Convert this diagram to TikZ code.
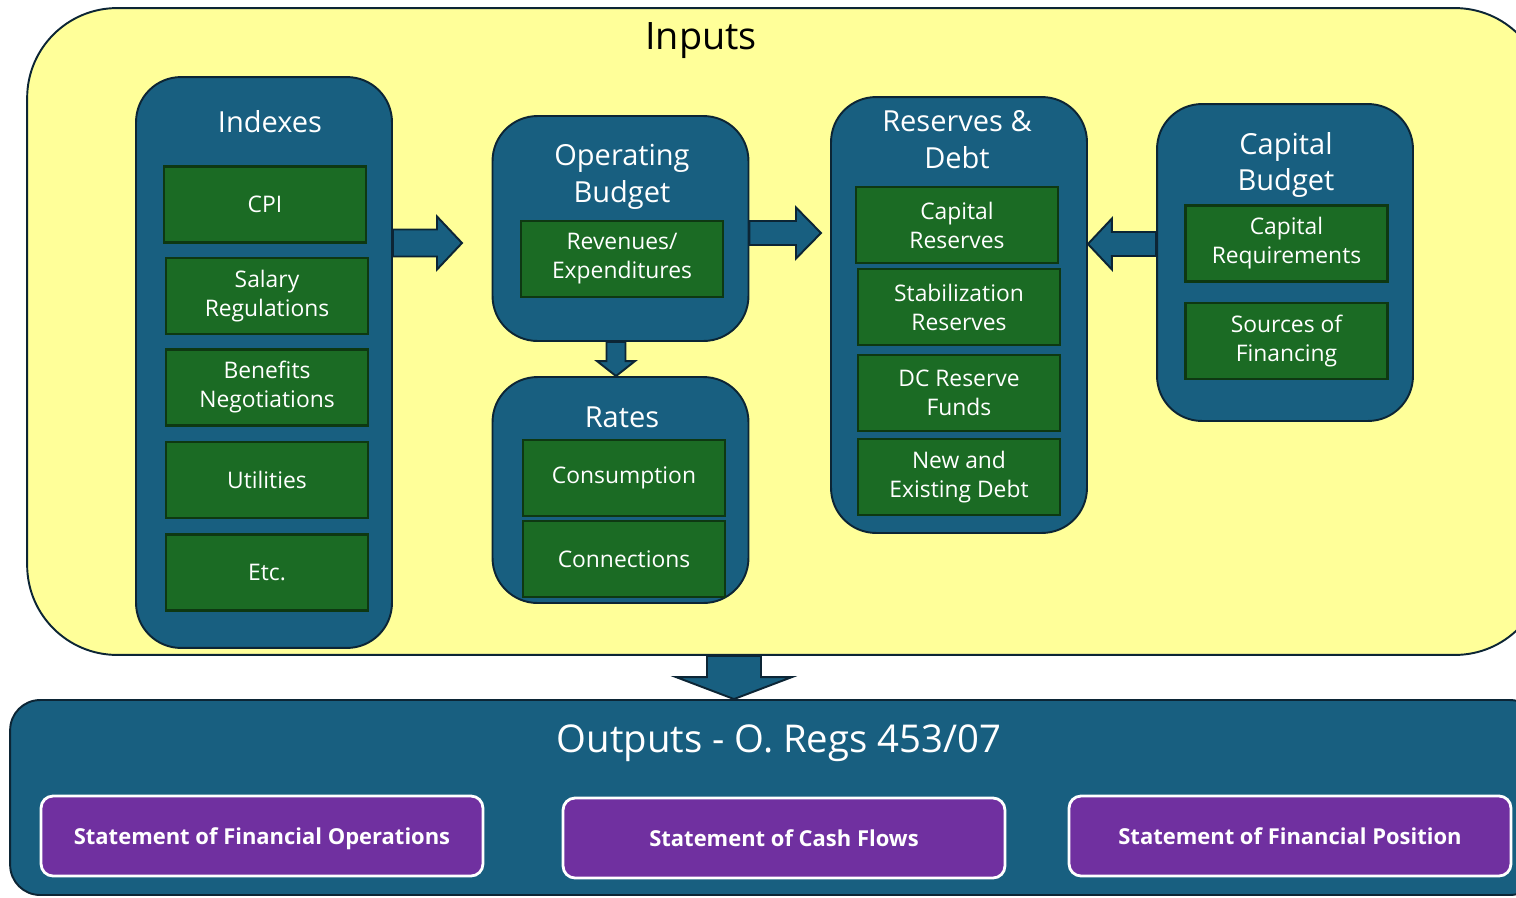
\documentclass[tikz,border=0pt]{standalone}
\usepackage{fontspec}
\setmainfont{Open Sans}
\usetikzlibrary{shapes, arrows, positioning, calc}

\definecolor{inyellow}{HTML}{FFFF99}
\definecolor{grpblue}{HTML}{185F80}
\definecolor{edgenavy}{HTML}{0C2535}
\definecolor{itemgreen}{HTML}{1B6B24}
\definecolor{itemedge}{HTML}{0E3812}
\definecolor{stmtpurple}{HTML}{7030A0}

% block arrow: start, tip, shaft half width, head half width, head length
\newcommand{\fatarrow}[5]{%
  \coordinate (fa-base) at ($(#2)!#5!(#1)$);
  \draw[fat_arrow] ($(#1)!#3!90:(#2)$) -- ($(fa-base)!#3!90:(#2)$) -- ($(fa-base)!#4!90:(#2)$) -- (#2)
    -- ($(fa-base)!#4!-90:(#2)$) -- ($(fa-base)!#3!-90:(#2)$) -- ($(#1)!#3!-90:(#2)$) -- cycle;
}

\begin{document}
\begin{tikzpicture}[
    x=0.02cm, y=-0.02cm,   % one unit per pixel, y going down
    node distance=0.26cm,
    in_box/.style={rectangle, rounded corners=1.8cm, draw=edgenavy, line width=1.1pt, fill=inyellow},
    out_box/.style={rectangle, rounded corners=0.6cm, draw=edgenavy, line width=1.1pt, fill=grpblue},
    grp_box/.style={rectangle, rounded corners=0.9cm, draw=edgenavy, line width=1.1pt, fill=grpblue, minimum width=5.12cm},
    grp_title/.style={align=center, text=white, font=\fontsize{16.5}{21}\selectfont},
    item_box/.style={rectangle, draw=itemedge, line width=1.4pt, fill=itemgreen, minimum width=4.04cm,
        minimum height=1.52cm, inner sep=0pt, align=center, text=white, font=\fontsize{13}{16.5}\selectfont},
    stmt_box/.style={rectangle, rounded corners=0.24cm, draw=white, line width=1.6pt, fill=stmtpurple,
        minimum width=8.84cm, minimum height=1.6cm, text height=0.4cm, text depth=0.06cm,
        text=white, font=\bfseries\fontsize{12.5}{14}\selectfont},
    fat_arrow/.style={draw=edgenavy, line width=1.1pt, fill=grpblue, line join=miter}
    ]
    \useasboundingbox (0,0) rectangle (1516,897);
    \clip (0,0) rectangle (1516,897);

    % Frames
    \node[in_box, minimum width=30.36cm, minimum height=12.94cm] (inp) at (786,331.5) {};
    \node[font=\fontsize{21.5}{24}\selectfont] (inp_title) at (701,41) {Inputs};
    \node[out_box, minimum width=30.6cm, minimum height=3.9cm] (outp) at (775,797.5) {};
    \node[text=white, font=\fontsize{21.8}{24}\selectfont] (outp_title) at (779,743) {Outputs - O. Regs 453/07};

    % Groups
    \node[grp_box, minimum height=11.42cm] (idx) at (264,362.5) {};
    \node[grp_box, minimum height=4.5cm] (opb) at (620.5,228.5) {};
    \node[grp_box, minimum height=4.52cm] (rates) at (620.5,490) {};
    \node[grp_box, minimum height=8.72cm] (resv) at (959,315) {};
    \node[grp_box, minimum height=6.34cm] (capb) at (1285,262.5) {};

    \node[grp_title] (idx_title) at (270,122) {Indexes};
    \node[grp_title] (opb_title) at (622,177) {Operating\\Budget};
    \node[grp_title] (rates_title) at (622,417) {Rates};
    \node[grp_title] (resv_title) at (957,140) {Reserves \&\\Debt};
    \node[grp_title] (capb_title) at (1286,165) {Capital\\Budget};

    % Arrows
    \coordinate (tip1) at (462,243);
    \fatarrow{idx.east |- tip1}{tip1}{0.27cm}{0.53cm}{0.5cm}
    \coordinate (tip2) at (821,233);
    \fatarrow{opb.east |- tip2}{tip2}{0.24cm}{0.51cm}{0.5cm}
    \coordinate (tip3) at (resv.east |- 0,244);
    \fatarrow{capb.west |- tip3}{tip3}{0.24cm}{0.51cm}{0.48cm}
    \coordinate (tip4) at (616,0 |- rates.north);
    \fatarrow{tip4 |- opb.south}{tip4}{0.19cm}{0.38cm}{0.3cm}
    \coordinate (tip5) at (734,0 |- outp.north);
    \fatarrow{tip5 |- inp.south}{tip5}{0.54cm}{1.16cm}{0.44cm}

    % Indexes
    \node[item_box] (cpi) at (265,204.5) {CPI};
    \node[item_box, below=of cpi, xshift=0.04cm] (sal) {Salary\\Regulations};
    \node[item_box, below=of sal] (ben) {Benefits\\Negotiations};
    \node[item_box, below=0.28cm of ben] (util) {Utilities};
    \node[item_box, below=0.28cm of util] (etc) {Etc.};

    % Operating budget and rates
    \node[item_box] (rev) at (622,259) {Revenues/\\Expenditures};
    \node[item_box] (cons) at (624,478) {Consumption};
    \node[item_box, below=0.05cm of cons] (conn) {Connections};

    % Reserves and debt
    \node[item_box] (capres) at (957,225) {Capital\\Reserves};
    \node[item_box] (stab) at (959,307) {Stabilization\\Reserves};
    \node[item_box] (dcres) at (959,393) {DC Reserve\\Funds};
    \node[item_box] (debt) at (959,477) {New and\\Existing Debt};

    % Capital budget
    \node[item_box] (capreq) at (1286.5,243.5) {Capital\\Requirements};
    \node[item_box, below=0.38cm of capreq] (srcfin) {Sources of\\Financing};

    % Statements
    \node[stmt_box] (sfo) at (262,836) {Statement of Financial Operations};
    \node[stmt_box] (scf) at (784,838) {Statement of Cash Flows};
    \node[stmt_box] (sfp) at (1290,836) {Statement of Financial Position};
\end{tikzpicture}
\end{document}
